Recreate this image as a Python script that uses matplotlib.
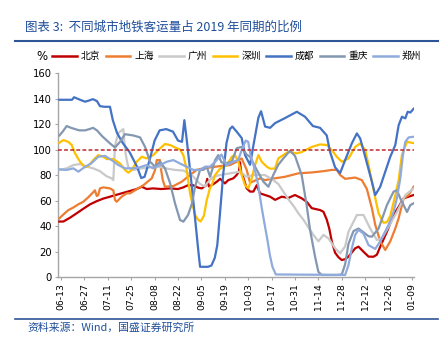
import matplotlib
matplotlib.use("Agg")
import matplotlib.pyplot as plt
from matplotlib.lines import Line2D

plt.rcParams['font.family'] = ['Noto Sans CJK SC', 'DejaVu Sans']

# x positions are day offsets from 06-13
tick_days = [0, 14, 28, 42, 56, 70, 84, 98, 112, 126, 140, 154, 168, 182, 196, 210]
tick_labels = ["06-13", "06-27", "07-11", "07-25", "08-08", "08-22", "09-05", "09-19",
               "10-03", "10-17", "10-31", "11-14", "11-28", "12-12", "12-26", "01-09"]

bj_days = [-1, 1.4, 5.4, 9.4, 13.3, 17.4, 21.4, 25.3, 29.3, 33.3, 37.3, 41.3, 45.3, 48.3, 51.3, 55, 60, 65, 70,
           73.2, 76, 79, 82.2, 84.2, 86.5, 87.5, 88.5, 90.2, 93.2, 95.2, 98.1, 100.1, 103.1, 105.1, 106.5, 107.1,
           107.8, 108.6, 111.1, 113.1, 115.1, 117.1, 119.1, 122.1, 125.1, 128.1, 132.1, 136, 140, 144, 147, 150,
           155, 157, 159, 160.5, 162, 164, 166, 168, 170, 172, 176, 178, 181, 184, 187, 189, 191, 195, 199, 202,
           205, 208, 211]
bj_vals = [43.5, 43.5, 46.5, 50, 53.5, 57, 59.5, 61.5, 63, 64.5, 66, 67.5, 69, 70.8, 69, 69.5, 69, 69.5, 69,
           70.3, 72, 72, 70, 69.5, 71.5, 77, 71, 72, 74.7, 77, 73.4, 76, 77.4, 80, 83, 90,
           82, 80, 69.5, 67, 67, 72, 65.6, 64.3, 63, 60.5, 63, 62, 64.3, 61.7, 59, 54,
           52.5, 51.2, 45, 38, 28, 19, 15.5, 13.3, 14, 16, 22.5, 23.8, 19.8, 16, 15.9, 17.5, 23.8, 35.5, 48.6, 55,
           61.7, 63, 64.3]

sh_days = [-1, 1.4, 4.4, 7.4, 10.4, 13.3, 16.3, 19.3, 20.3, 21.4, 22.3, 23.3, 25.3, 29.3, 31.3, 32.3, 33.3, 35.3,
           36.3, 39.3, 41.3, 44.3, 49.3, 54.3, 56.3, 57.3, 59.2, 59.9, 60.9, 62.2, 67.2, 72.2, 77.2, 81.2, 85.2,
           95.2, 101.1, 105.1, 108.1, 111.1, 113.1, 115.1, 119.1, 122, 128, 134, 142, 150, 157, 162, 165, 167,
           170, 176, 180, 183, 186, 188, 191, 194, 197, 200, 202, 205, 208, 211]
sh_vals = [46, 49, 52.5, 54.5, 57, 59, 62.5, 66.5, 68, 63.5, 64.3, 69.5, 70.3, 69.5, 68, 60.5, 59, 61.7,
           63, 65.6, 65.6, 68, 72, 77.4, 84, 91.7, 91.7, 84, 76, 70.8, 71.3, 74.7, 80, 84, 85.2,
           87, 87.8, 90.4, 93, 84, 74, 75, 77.4, 76, 77.4, 78.6, 81.3, 82, 83, 84, 84, 80,
           77, 78, 76, 69, 54, 41, 28, 21.2, 28, 38, 46, 61.7, 64.3, 70.8]

gz_days = [-1, 3.4, 7.4, 11.4, 15.4, 19.3, 23.3, 27.3, 30.3, 31.3, 32.3, 34.3, 35.3, 37.3, 38.3, 39.3, 40.3,
           43.3, 47.3, 53.3, 58.2, 63.3, 68.2, 73.2, 78.2, 83.2, 86, 87.2, 91.1, 95.2, 101.1, 107.1, 111.1,
           115.1, 122, 127, 130, 133, 136, 139, 142, 145, 148, 151, 154, 157, 160, 162, 164, 167, 170, 172,
           177, 181, 185, 189, 192, 196, 201, 206, 211]
gz_vals = [84, 85.2, 87.8, 88.6, 86.5, 85.2, 83, 79, 77.4, 76, 103, 113, 114, 116, 100, 92, 86,
           84, 85, 86, 86.5, 85, 84, 83.5, 80, 73, 71, 73.4, 78.6, 80, 81.3, 82.6, 78.6,
           80, 80, 76, 73, 67, 61, 56, 50, 45, 39, 33, 28, 33, 30.3, 26.5, 22.5, 18.6, 24, 35.5,
           48.6, 48.6, 38, 29, 30.3, 39.4, 51, 64.3, 69.5]

sz_days = [-1, 1.4, 4.4, 6.4, 8.4, 11.4, 14.4, 16.3, 19.3, 22.3, 25.3, 27.3, 31.3, 35.3, 38.3, 40.3, 42.3,
           45.3, 48.3, 51.3, 55.2, 58.2, 62.2, 65.3, 68.2, 71.2, 73.2, 75.2, 77.2, 80.2, 82, 83.5, 85.5,
           87.2, 89.2, 90.2, 92.2, 95.2, 99.2, 102.2, 104.1, 106.1, 108.1, 110.1, 112.1, 114.1, 116.1, 118.1,
           120.1, 123.1, 125.1, 128, 130, 136, 141, 144, 150, 155, 159, 162, 165, 168, 172, 176, 179, 182,
           184, 186, 188, 190, 193, 195, 197, 200, 202, 204, 207, 211]
sz_vals = [105.3, 107.4, 106, 103.5, 97, 90.4, 86, 87, 91.7, 95.6, 94.3, 92.5, 92.5, 89, 84, 81.8, 84,
           90.4, 94.3, 93, 95.6, 99.6, 104.3, 103.5, 101.6, 100, 95.6, 84, 65.6, 48.6, 45, 43.5, 48,
           60.4, 70, 72, 80, 85, 87.8, 94.3, 95.6, 90.4, 80, 72, 69.5, 77.4, 87.8, 95.6,
           90.4, 86.5, 85, 85, 93, 98.3, 97, 98, 102, 104, 103.5, 99.6, 94.3, 90.4, 93, 102, 104.8, 99.6,
           88, 75, 62, 50, 42.5, 43, 48, 64, 76, 96, 106, 105]

cd_days = [-1, 2, 6.6, 7.8, 11.4, 14.4, 17, 19, 21.5, 23.3, 26, 29.3, 31, 33.5, 37, 41, 45.5, 48, 50, 53,
           56, 59, 63, 67, 70, 72.4, 73.8, 75.2, 78.2, 80.2, 82.2, 83.2, 88, 90, 92, 93.5, 95, 97, 99,
           101, 102.5, 105.1, 108.1, 110.1, 113.1, 115.5, 118.1, 119.7, 122.1, 125.1, 128.1, 134.1, 141.1,
           146, 150.7, 155, 159, 161, 164, 167, 170, 174, 177, 179, 182, 186, 188, 191, 194, 197, 200, 202,
           204, 206, 207.4, 209, 211]
cd_vals = [139, 139, 139, 141, 139, 137.5, 138.5, 139.5, 138, 134, 133.5, 133.5, 123, 113, 105, 98, 86.5,
           77.6, 78.6, 91.7, 107, 115, 116, 114, 107, 106, 123, 108, 72, 46, 20, 8, 8, 9, 15, 25, 48, 80,
           105, 116, 118, 114, 109, 95.6, 88, 106, 125, 130, 118, 117, 120.7, 124.7, 129.6,
           125.7, 118.4, 117, 111, 98, 86, 81.5, 91.7, 104.8, 112.6, 108.7, 94.3, 74.7, 64.3, 70.8, 82.6,
           94.3, 103.5, 119, 125.7, 124.4, 129.6, 129, 132]

cq_days = [-1, 1, 3.4, 6, 8.4, 11, 14.4, 17, 19.2, 21.5, 24.5, 29.3, 32.3, 35.3, 38.3, 43.3, 47.3, 50.3,
           53.3, 56.3, 59.2, 62.2, 65.3, 68.2, 71.2, 73.2, 76, 78.4, 80.2, 83.2, 85.2, 87.2, 89.2, 92.2,
           94.1, 96, 98.1, 102.2, 105.1, 108.1, 111, 113.1, 117.1, 121.1, 124.1, 127, 130, 133, 137, 140,
           144, 147, 149, 152, 154, 156, 165, 168, 170, 172, 175, 178, 181, 184, 186, 190, 195, 199, 201,
           203, 207, 209, 211]
cq_vals = [111, 114, 118.4, 117, 116, 115, 115, 116, 117, 115, 110.6, 104.8, 101.6, 106, 112, 111, 109.5, 102,
           90.4, 86.5, 90.4, 85.2, 73.4, 57.8, 44.7, 43.4, 48.6, 57.8, 70.8, 84, 84, 86.5, 78.6, 91.7,
           95.6, 90, 89, 90.4, 101, 102, 96, 94.3, 84, 74.7, 70.8, 80, 88, 93, 99, 95,
           80, 56, 37, 16, 4, 1.6, 1.6, 2, 10, 26, 36, 38, 35, 32, 31.6, 38, 56.4, 67, 68,
           61.7, 51, 56.4, 57.8]

zz_days = [-1, 3.4, 7.4, 10.4, 14.4, 18, 22.3, 26.3, 30.3, 34.3, 38.3, 43.3, 47, 51.3, 55.2, 59.2, 63.3,
           67.2, 71.2, 75.2, 79.2, 83.2, 86.2, 89, 92, 96, 99.2, 103.1, 106, 108, 110.5, 112, 113.5, 116,
           118, 120, 122, 123.5, 125, 126.5, 128.5, 170, 172, 174, 176, 178, 181, 184, 188, 191, 196, 199,
           201, 203, 204.5, 206, 208, 211]
zz_vals = [84.4, 84, 85.2, 82.6, 86.5, 89, 94.3, 95, 91.7, 87.8, 85.2, 85.2, 86, 87.8, 85.2, 87.8, 90.4,
           91.7, 89, 86.5, 84, 84, 86.5, 86.5, 90, 96, 87.8, 90.4, 91.7, 99, 107, 106, 95, 84,
           72, 55, 40, 29, 17, 8, 2, 1.6, 9.4, 22.5, 33, 37, 34, 25, 22, 28, 41, 51,
           62, 77.4, 95, 106, 109.5, 110]

series = [
    ("北京", bj_days, bj_vals, "#C00000"),
    ("上海", sh_days, sh_vals, "#ED7D31"),
    ("广州", gz_days, gz_vals, "#C9C9C9"),
    ("深圳", sz_days, sz_vals, "#FFC000"),
    ("成都", cd_days, cd_vals, "#4472C4"),
    ("重庆", cq_days, cq_vals, "#8497B0"),
    ("郑州", zz_days, zz_vals, "#8FAADC"),
]

fig = plt.figure(figsize=(4.44, 3.48), dpi=100)
ax = fig.add_axes([58 / 444, 1 - 277 / 348, (414 - 58) / 444, (277 - 73) / 348])

handles = []
for name, d, v, c in series:
    ax.plot(d, v, color=c, lw=1.6, solid_joinstyle='round', zorder=3)
    handles.append(Line2D([0], [0], color=c, lw=1.8, label=name))

ax.axhline(100, color="#C0282D", lw=1.1, ls=(0, (2.5, 1.5)), zorder=4)

ax.set_xlim(-1.8, 211.2)
ax.set_ylim(0, 160)
ax.set_yticks(range(0, 161, 20))
ax.set_xticks(tick_days)
ax.set_xticklabels(tick_labels, rotation=90, fontsize=6.7, family=['DejaVu Sans'])
ax.tick_params(axis='y', labelsize=7.2, length=2.5, width=0.8, color="#A6A6A6", pad=2)
ax.tick_params(axis='x', length=2.5, width=0.8, color="#A6A6A6", pad=2)
for lab in ax.get_yticklabels():
    lab.set_family(['DejaVu Sans'])
for s in ["top", "right"]:
    ax.spines[s].set_visible(False)
for s in ["left", "bottom"]:
    ax.spines[s].set_color("#A6A6A6")
    ax.spines[s].set_linewidth(1.0)

# title & rules
blue = "#1F4E9A"
fig.text(25 / 444, 1 - 27 / 348, "图表 3:  不同城市地铁客运量占 2019 年同期的比例", fontsize=9,
         color=blue, ha='left', va='center', style='italic')
fig.add_artist(Line2D([15 / 444, 438 / 444], [1 - 41 / 348, 1 - 41 / 348], color="#2E5597", lw=1.5))
fig.add_artist(Line2D([15 / 444, 438 / 444], [1 - 319 / 348, 1 - 319 / 348], color="#2E5597", lw=1.2))
fig.text(27 / 444, 1 - 328 / 348, "资料来源：Wind，国盛证券研究所", fontsize=7.8, color=blue,
         ha='left', va='center', style='italic')

fig.text(42 / 444, 1 - 56 / 348, "%", fontsize=8.5, ha='center', va='center', family=['DejaVu Sans'])
fig.legend(handles=handles, ncol=7, loc='center left', bbox_to_anchor=(52 / 444, 1 - 56 / 348),
           frameon=False, fontsize=7, handlelength=2.55, handletextpad=0.4, columnspacing=0.55,
           borderpad=0, borderaxespad=0)

fig.savefig("out.png", dpi=100)
